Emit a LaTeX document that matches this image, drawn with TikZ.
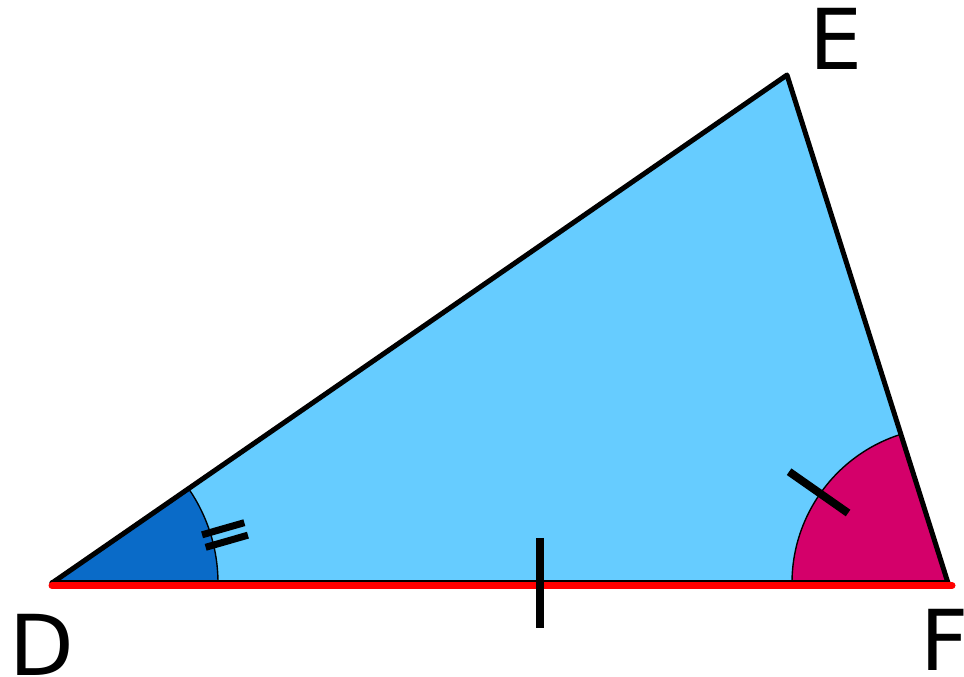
\documentclass[tikz,border=0pt]{standalone}
\usepackage{fontspec}
\setmainfont{DejaVu Sans}
\usetikzlibrary{calc}
\definecolor{triblue}{HTML}{66CCFF}
\definecolor{angblue}{HTML}{0A6BC8}
\definecolor{angmag}{HTML}{D4006A}
\begin{document}
\begin{tikzpicture}[x=1pt,y=1pt,
  edge/.style={line width=5pt,line join=round,line cap=round},
  arcline/.style={line width=1.4pt},
  tickmark/.style={line width=8pt},
  lbl/.style={font=\fontsize{84}{84}\selectfont,inner sep=0pt}]
\useasboundingbox (0,0) rectangle (964,677);
\coordinate (D) at (52,94);
\coordinate (E) at (787,602);
\coordinate (F) at (948,94);
% triangle fill
\fill[triblue] (D) -- (E) -- (F) -- cycle;
% angle D
\fill[angblue] (D) -- ++(0:166) arc[start angle=0,end angle=34.65,radius=166] -- cycle;
\draw[arcline] ($(D)+(0:166)$) arc[start angle=0,end angle=34.65,radius=166];
% angle F
\fill[angmag] (F) -- ++(180:156) arc[start angle=180,end angle=107.6,radius=156] -- cycle;
\draw[arcline] ($(F)+(180:156)$) arc[start angle=180,end angle=107.6,radius=156];
% edges
\draw[edge] (F) -- (D);
\draw[edge] (D) -- (E) -- (F);
\coordinate (D2) at ($(D)+(0,-2.5)$);
\coordinate (F2) at ($(F)+(4,-2.5)$);
\draw[red,line width=7pt,line cap=round] (D2) -- (F2);
% side tick on DF
\coordinate (m) at (540,94);
\draw[tickmark] ($(m)+(0,45)$) -- ($(m)+(0,-45)$);
% tick on angle F
\coordinate (tf) at ($(F)+(145:158)$);
\draw[tickmark] ($(tf)+(145:-36)$) -- ($(tf)+(145:36)$);
% double tick on angle D
\coordinate (td) at (225,142);
\draw[tickmark,line width=7pt] ($(td)+(16:-22)+(106:6.5)$) -- ($(td)+(16:22)+(106:6.5)$);
\draw[tickmark,line width=7pt] ($(td)+(16:-22)+(106:-6.5)$) -- ($(td)+(16:22)+(106:-6.5)$);
% labels
\node[lbl] (lD) at (42,32) {D};
\node[lbl] (lE) at (836,638) {E};
\node[lbl,anchor=west] (lF) at (920,37) {F};
\end{tikzpicture}
\end{document}
